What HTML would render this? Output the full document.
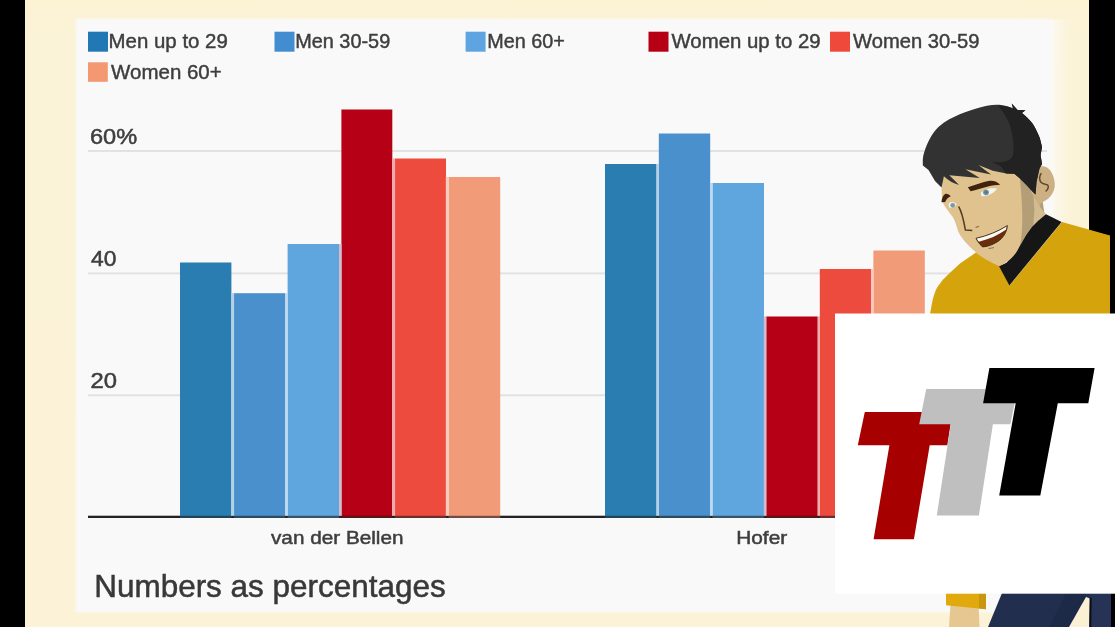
<!DOCTYPE html>
<html>
<head>
<meta charset="utf-8">
<title>Chart</title>
<style>
  html, body { margin: 0; padding: 0; }
  body { width: 1115px; height: 627px; overflow: hidden; background: #fbf3d9; font-family: "Liberation Sans", sans-serif; }
  svg { position: absolute; left: 0; top: 0; display: block; }
  text { font-family: "Liberation Sans", sans-serif; }
</style>
</head>
<body>
<svg width="1115" height="627" viewBox="0 0 1115 627">
  <defs>
    <filter id="soft" x="-5%" y="-5%" width="110%" height="110%"><feGaussianBlur stdDeviation="0.7"/></filter>
    <filter id="softer" x="-5%" y="-5%" width="110%" height="110%"><feGaussianBlur stdDeviation="1.6"/></filter>
    <linearGradient id="bgg" x1="0" y1="0" x2="0" y2="1">
      <stop offset="0" stop-color="#fcf2d4"/>
      <stop offset="0.06" stop-color="#fbf3d7"/>
      <stop offset="1" stop-color="#fbf2d7"/>
    </linearGradient>
    <linearGradient id="edgeR" x1="0" y1="0" x2="1" y2="0">
      <stop offset="0" stop-color="#fbfaf6" stop-opacity="1"/>
      <stop offset="1" stop-color="#fcf4dc" stop-opacity="0"/>
    </linearGradient>
  </defs>

  <!-- background -->
  <rect x="0" y="0" width="1115" height="627" fill="url(#bgg)"/>
  <rect x="0" y="0" width="25" height="627" fill="#000"/>
  <rect x="1089" y="0" width="26" height="627" fill="#000"/>

  <!-- chart panel -->
  <rect x="76" y="19" width="976" height="593" fill="#f9f9f9" filter="url(#softer)"/>
  <rect x="77" y="20" width="974" height="591.5" fill="#f9f9f9"/>

  <rect x="1050" y="19.5" width="26" height="295" fill="url(#edgeR)"/>

  <g id="chart" filter="url(#soft)">
    <!-- gridlines -->
    <rect x="88" y="150" width="959" height="2" fill="#e2e2e2"/>
    <rect x="88" y="272.4" width="959" height="2" fill="#e2e2e2"/>
    <rect x="88" y="394.3" width="959" height="2" fill="#e2e2e2"/>

    <!-- baseline -->
    <rect x="88" y="515.8" width="963" height="2.2" fill="#2a2a2a"/>

    <!-- bars: van der Bellen -->
    <rect x="180.0" y="262.5" width="51.4" height="255.5" fill="#2a7db0"/>
    <rect x="233.9" y="293.2" width="51.3" height="224.8" fill="#4a90cc"/>
    <rect x="287.6" y="244.0" width="51.6" height="274.0" fill="#5fa5de"/>
    <rect x="341.4" y="109.5" width="50.9" height="408.5" fill="#b50012"/>
    <rect x="394.9" y="158.5" width="51.1" height="359.5" fill="#ec4b3c"/>
    <rect x="448.7" y="177.0" width="51.5" height="341.0" fill="#f19b78"/>

    <!-- bars: Hofer -->
    <rect x="605.0" y="164.0" width="51.6" height="354.0" fill="#2a7db0"/>
    <rect x="658.8" y="133.5" width="51.4" height="384.5" fill="#4a90cc"/>
    <rect x="712.4" y="183.0" width="51.6" height="335.0" fill="#5fa5de"/>
    <rect x="766.2" y="316.5" width="51.6" height="201.5" fill="#b50012"/>
    <rect x="819.8" y="269.0" width="51.4" height="249.0" fill="#ec4b3c"/>
    <rect x="873.4" y="250.5" width="51.4" height="267.5" fill="#f19b78"/>

    <!-- bar separators -->
    <rect x="231.2" y="293.2" width="2.9" height="222.8" fill="#b4d1e6"/>
    <rect x="285.0" y="293.2" width="2.8" height="222.8" fill="#bed9ef"/>
    <rect x="339.0" y="244.0" width="2.6" height="272.0" fill="#d3bdcc"/>
    <rect x="392.1" y="158.5" width="3.0" height="357.5" fill="#edacad"/>
    <rect x="445.8" y="177.0" width="3.1" height="339.0" fill="#f9cac0"/>
    <rect x="656.4" y="164.0" width="2.6" height="352.0" fill="#b4d1e6"/>
    <rect x="710.0" y="183.0" width="2.6" height="333.0" fill="#bed9ef"/>
    <rect x="763.8" y="316.5" width="2.6" height="199.5" fill="#d3bdcc"/>
    <rect x="817.6" y="316.5" width="2.4" height="199.5" fill="#edacad"/>
    <rect x="871.0" y="269.0" width="2.6" height="247.0" fill="#f9cac0"/>

    <!-- legend -->
    <g fill="#3e3e3e" stroke="#3e3e3e" stroke-width="0.45" font-size="20.4">
    <text x="108.6" y="48.3" textLength="119.2" lengthAdjust="spacingAndGlyphs">Men up to 29</text>
    <text x="295.2" y="48.3" textLength="95" lengthAdjust="spacingAndGlyphs">Men 30-59</text>
    <text x="487.2" y="48.3" textLength="77.6" lengthAdjust="spacingAndGlyphs">Men 60+</text>
    <text x="671.5" y="48.3" textLength="149.1" lengthAdjust="spacingAndGlyphs">Women up to 29</text>
    <text x="853.1" y="48.3" textLength="126.3" lengthAdjust="spacingAndGlyphs">Women 30-59</text>
    <text x="111.1" y="78.5" textLength="110.6" lengthAdjust="spacingAndGlyphs">Women 60+</text>
    </g>
    <rect x="88" y="31.7" width="20" height="20" fill="#2478b4"/>
    <rect x="274.5" y="31.7" width="20" height="20" fill="#438dd0"/>
    <rect x="465.6" y="31.7" width="20" height="20" fill="#5da4e0"/>
    <rect x="648.5" y="31.7" width="20" height="20" fill="#b50012"/>
    <rect x="830" y="31.7" width="20" height="20" fill="#ee4a3a"/>
    <rect x="88" y="62.3" width="19.8" height="19.5" fill="#f39872"/>

    <!-- axis labels -->
    <g fill="#3e3e3e" stroke="#3e3e3e" stroke-width="0.5">
    <text x="90" y="143.5" font-size="21.2" textLength="47.2" lengthAdjust="spacingAndGlyphs">60%</text>
    <text x="91" y="265.5" font-size="21.2" textLength="25.4" lengthAdjust="spacingAndGlyphs">40</text>
    <text x="90.5" y="387.7" font-size="21.2" textLength="26.5" lengthAdjust="spacingAndGlyphs">20</text>
    <text x="271" y="543.5" font-size="18.8" textLength="132.5" lengthAdjust="spacingAndGlyphs">van der Bellen</text>
    <text x="736.2" y="543.6" font-size="18.8" textLength="51" lengthAdjust="spacingAndGlyphs">Hofer</text>
    </g>
    <text x="94.2" y="597.2" font-size="31.3" fill="#383838" stroke="#383838" stroke-width="0.5" textLength="351.6" lengthAdjust="spacingAndGlyphs">Numbers as percentages</text>

    <!-- baseline overlay -->
    <rect x="88" y="515.8" width="963" height="2.2" fill="#1e1e1e" opacity="0.62"/>
  </g>

  <!-- character -->
  <g id="guy" filter="url(#soft)">
    <!-- pants -->
    <path d="M1002,593 L1111,593 L1111,627 L988,627 Z" fill="#232f4e"/>
    <path d="M1066,593 L1086,593 L1086,597 L1069,627 L1049,627 Z" fill="#1e2946"/>
    <path d="M1090,593 L1111,593 L1111,627 L1090,627 Z" fill="#253256"/>
    <path d="M1086,597 L1090,598.5 L1089.5,627 L1069,627 Z" fill="#fbf0d4"/>
    <path d="M1089.6,597.5 L1091.6,598 L1091.2,627 L1089.2,627 Z" fill="#0a0c14"/>
    <!-- arm + sleeve -->
    <path d="M950.5,604 L978.5,604 L979.5,627 L949,627 Z" fill="#e6c792"/>
    <path d="M946,593 L986,593 L986,609.2 L978.5,608.6 L946,605.2 Z" fill="#e0a910"/>
    <path d="M979,593 L986,593 L986,609.2 L979,608.6 Z" fill="#c8970d"/>

    <!-- shirt -->
    <path d="M930,314 L932.4,301 Q934.5,292 937.3,287.2 Q942.5,279 949.2,273.4 L960,263.5 L976,252.5 L999,266 L1010,285 L1062,222 L1110,235.5 L1110,314 Z" fill="#d5a40b"/>
    <!-- neck -->
    <path d="M1012,172 L1038,170 L1044.5,214 L1024,251 L999,266 L976,252 Z" fill="#b39e77"/>
    <path d="M1034.5,188 L1037.5,196 L1039,201.6 L1039.8,206.7 L1046.5,215 L1033,228 L1034.4,211 L1033.5,196 Z" fill="#d2bc90"/>
    <!-- collar -->
    <path d="M1046,214.3 L1061.6,222 L1009.4,285.4 L999,266.2 L1006.5,262.8 Q1014,254.5 1020.5,245 Q1026,234.5 1032,227.1 Q1038,220.5 1046,214.3 Z" fill="#161616"/>
    <!-- ear -->
    <path d="M1031,170 C1035,166.5 1040,165.8 1043.5,166.3 C1048,167 1051.5,171 1053.2,176 C1055,181 1055.4,186 1054,190 C1052.5,194.5 1049,198.5 1045.5,200.5 C1043,202 1040.5,203.5 1038.5,204.5 L1031,192 Z" fill="#ccb083"/>
    <path d="M1041,173.6 C1039.3,176.5 1039.3,180 1041,182.3 C1042.6,184.3 1045.5,184 1047.6,185 C1049,186.5 1048.2,189.3 1046,191" fill="none" stroke="#5d4828" stroke-width="1.5" stroke-linecap="round"/>
    <!-- face -->
    <path d="M941.5,186 L944,162 L1005,152 L1019,170 C1021,190 1024,215 1021,241 C1019,252 1010,262 999,266 C990,262 982,258 976,252.5 C966,244 960,236 958,231 C956,224 954,218 952,216 C946,208 942,203 942,199 Z" fill="#dfc28d"/>
    <!-- hair -->
    <path d="M922.9,165.5 C922.5,160 923,156 924,153 C926,146 928,142 930,138.5 C934,131 939,126 944,122.5 C951,118 958,115 965,112.3 C973,109.5 980,107.2 987,105.8 C992,104.8 997,104.6 1001,105 C1005,105.4 1009,106.6 1013,108.6 L1011.7,103.5 L1017.6,110 L1025.5,110.3 L1021.9,112.9 C1026,116 1030,120 1032.7,123.7 C1036,129 1038,133.5 1039.8,138 L1042,147 L1040.6,155.3 L1042,164 L1039.5,168.5 L1036.5,182 L1035.5,194.5 L1031,190 C1027,185.5 1022,180.5 1019.7,178.3 L1014.3,173.8 L1006.2,173.4 L992.8,170.7 L978.4,164.9 L991,174.6 L965.4,169.3 L979.8,178.1 L949.3,175.2 L959.1,185 Q950.5,182.8 943.9,176.3 L941.5,187.5 L935,181 L928.5,170 Z" fill="#323232"/>
    <path d="M998.5,106 C1006,115 1011,125 1012.3,135 C1013.6,144 1014.3,151 1012.8,155.5 C1011,160.5 1004,163.6 992,161.5 L1001,166.5 L1006.2,173.4 L1014.3,173.8 L1019.7,178.3 C1022,180.5 1027,185.5 1031,190 L1035.5,194.5 L1036.5,182 L1039.5,168.5 L1042,164 L1040.6,155.3 L1042,147 L1039.8,138 C1038,133.5 1036,129 1032.7,123.7 C1030,120 1026,116 1021.9,112.9 L1025.5,110.3 L1017.6,110 L1011.7,103.5 L1013,108.6 C1008,106 1002,105.2 998.5,106 Z" fill="#222222"/>
    <!-- eyebrows -->
    <path d="M967.8,187.2 C975,185 982,182.4 989.5,180.8 C994,180.5 998,182.2 1000.2,184.8 C996,184.9 992,185.5 988,186.6 C982,188.2 976,190.2 970.6,191.2 Z" fill="#40240a"/>
    <path d="M941.4,202.3 C941.8,198 943.3,195 945.5,193.8 C947.6,193.6 949.6,194.8 950.6,196.4 C948.2,197.3 946.3,198.9 945.2,202 Z" fill="#40240a"/>
    <!-- eyes -->
    <path d="M980.8,193.2 C984,189 991,187.3 997,188.6 C994,193.6 987,196.8 981.5,196.3 Z" fill="#f4f4ee"/>
    <circle cx="986" cy="192.3" r="2.9" fill="#6d91a5"/><circle cx="986" cy="192.3" r="1.3" fill="#4f7487"/>
    <path d="M948.7,203.6 C950.5,201.3 954,201.3 956.6,204.2 C955.5,207.2 951.5,208.5 949,207.2 Z" fill="#f4f4ee"/>
    <circle cx="952.7" cy="205.3" r="2.4" fill="#7d9aa8"/>
    <!-- nose -->
    <path d="M958.6,206.5 C961.8,211.5 963.6,220 965.4,230 L972.3,230.6" fill="none" stroke="#54401f" stroke-width="1.5" stroke-linejoin="round"/>
    <path d="M975.5,227.5 L979,226.3" fill="none" stroke="#8d7248" stroke-width="1.3"/>
    <!-- mouth -->
    <path d="M976,238.3 C987,236 998,231.5 1007.3,225.6 C1007,232 1003,238.5 997,242 C992,245 987,246.8 982.5,246.9 C980,244.5 977.5,241.5 976,238.3 Z" fill="#6b2e08"/>
    <path d="M976,238.3 C987,236 998,231.5 1007.3,225.6 L1005.9,229.8 C998,235.3 989,239.3 978.8,241.8 Z" fill="#fbfbf6"/>
    <path d="M976,238.3 C987,236 998,231.5 1007.3,225.6 C1007,232 1003,238.5 997,242 C992,245 987,246.8 982.5,246.9 C980,244.5 977.5,241.5 976,238.3 Z" fill="none" stroke="#3a2410" stroke-width="0.9"/>
    <path d="M988.5,248.6 L994,247.6" fill="none" stroke="#8d7248" stroke-width="1"/>
  </g>

  <!-- logo box -->
  <rect x="835" y="313.5" width="280" height="280.2" fill="#ffffff"/>
  <g id="logo">
    <path d="M864.8,412 L952.5,412 L947.3,445.3 L929.7,445.3 L913.9,539.3 L873.6,539.3 L889.4,445.3 L857.8,445.3 Z" fill="#a60000"/>
    <path d="M926.2,389 L1017.5,389 L1010.4,424.2 L992.9,424.2 L978.9,515.4 L936.8,515.4 L950.8,424.2 L919.2,424.2 Z" fill="#bfbfbf"/>
    <path d="M989.4,368 L1094.6,368 L1088.3,403.2 L1057.8,403.2 L1040.3,495.4 L999.2,495.4 L1015.7,403.2 L983.1,403.2 Z" fill="#000000"/>
  </g>
</svg>
</body>
</html>
